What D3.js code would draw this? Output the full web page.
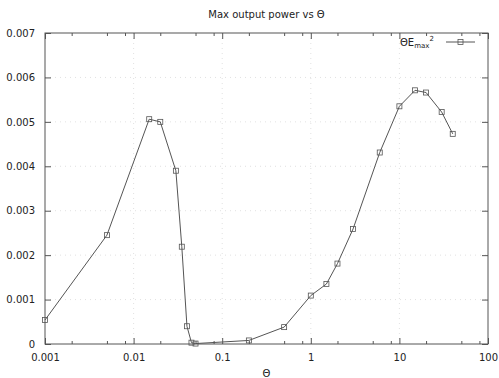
<!DOCTYPE html>
<html>
<head>
<meta charset="utf-8">
<script src="https://cdn.jsdelivr.net/npm/d3@7"></script>
<style>
  body { margin: 0; background: #fff; }
  svg { display: block; font-family: "DejaVu Sans", sans-serif; }
  text { fill: #222; }
</style>
</head>
<body>
<svg id="chart" width="499" height="378"></svg>
<script>
// theta values (log axis) and max output power
const theta = [0.001, 0.005, 0.015, 0.02, 0.03, 0.035, 0.04, 0.045, 0.05, 0.2, 0.5,
               1, 1.5, 2, 3, 6, 10, 15, 20, 30, 40];
const power = [0.00054, 0.00245, 0.00506, 0.00500, 0.00390, 0.00219, 0.00040, 0.00003, 0.00001,
               0.00008, 0.00038, 0.00109, 0.00135, 0.00181, 0.00259, 0.00431, 0.00535,
               0.00571, 0.00566, 0.00522, 0.00473];
const yTicks = [0, 0.001, 0.002, 0.003, 0.004, 0.005, 0.006, 0.007];
const xTicks = [0.001, 0.01, 0.1, 1, 10, 100];
const xMinor = [2, 5, 8];

const width = 499, height = 378;
const margin = { top: 33, right: 11, bottom: 34, left: 45 };

const svg = d3.select("#chart");

const x = d3.scaleLog()
    .domain([0.001, 100])
    .range([margin.left, width - margin.right]);
const y = d3.scaleLinear()
    .domain([0, 0.007])
    .range([height - margin.top - margin.bottom + margin.top, margin.top]);

const axisColor = "#555";

// faint dotted grid
const grid = svg.append("g");
grid.selectAll("line.gx")
    .data(xTicks.slice(1, -1))
    .enter().append("line")
    .attr("x1", d => x(d)).attr("x2", d => x(d))
    .attr("y1", y(0)).attr("y2", y(0.007))
    .attr("stroke", "#ccc").attr("stroke-width", 0.6)
    .attr("stroke-dasharray", "1,4");
grid.selectAll("line.gy")
    .data(yTicks.slice(1, -1))
    .enter().append("line")
    .attr("x1", x(0.001)).attr("x2", x(100))
    .attr("y1", d => y(d)).attr("y2", d => y(d))
    .attr("stroke", "#ccc").attr("stroke-width", 0.6)
    .attr("stroke-dasharray", "1,4");

// minor ticks list
const minorTicks = [];
xTicks.slice(0, -1).forEach(t => xMinor.forEach(m => minorTicks.push(t * m)));

// axes (inward ticks, mirrored)
const bottomAxis = d3.axisBottom(x).tickValues(xTicks).tickSize(-6).tickPadding(10)
    .tickFormat(d => String(+d.toPrecision(1)));
const topAxis = d3.axisTop(x).tickValues(xTicks).tickSize(-6).tickFormat("");
const leftAxis = d3.axisLeft(y).tickValues(yTicks).tickSize(-6).tickPadding(10)
    .tickFormat(d => d === 0 ? "0" : d3.format(".3f")(d));
const rightAxis = d3.axisRight(y).tickValues(yTicks).tickSize(-6).tickFormat("");

function styleAxis(g) {
    g.select(".domain").remove();
    g.selectAll("line").attr("stroke", axisColor);
    g.selectAll("text").attr("font-size", 10).attr("font-family", "DejaVu Sans").attr("fill", "#222");
}

svg.append("g").attr("transform", `translate(0,${y(0)})`).call(bottomAxis).call(styleAxis);
svg.append("g").attr("transform", `translate(0,${y(0.007)})`).call(topAxis).call(styleAxis);
svg.append("g").attr("transform", `translate(${x(0.001)},0)`).call(leftAxis).call(styleAxis);
svg.append("g").attr("transform", `translate(${x(100)},0)`).call(rightAxis).call(styleAxis);

// minor x ticks
svg.append("g").attr("transform", `translate(0,${y(0)})`)
    .call(d3.axisBottom(x).tickValues(minorTicks).tickSize(-3).tickFormat(""))
    .call(styleAxis);
svg.append("g").attr("transform", `translate(0,${y(0.007)})`)
    .call(d3.axisTop(x).tickValues(minorTicks).tickSize(-3).tickFormat(""))
    .call(styleAxis);

// border
svg.append("rect")
    .attr("x", x(0.001)).attr("y", y(0.007))
    .attr("width", x(100) - x(0.001)).attr("height", y(0) - y(0.007))
    .attr("fill", "none").attr("stroke", axisColor).attr("stroke-width", 1);

// series
const lineColor = "#555";
const line = d3.line().x((d, i) => x(theta[i])).y(d => y(d));
svg.append("path")
    .datum(power)
    .attr("d", line)
    .attr("fill", "none")
    .attr("stroke", lineColor)
    .attr("stroke-width", 1);

const ms = 5;
svg.append("g").selectAll("rect")
    .data(power)
    .enter().append("rect")
    .attr("x", (d, i) => x(theta[i]) - ms / 2)
    .attr("y", d => y(d) - ms / 2)
    .attr("width", ms).attr("height", ms)
    .attr("fill", "none").attr("stroke", lineColor).attr("stroke-width", 0.8);

// title and axis label
svg.append("text")
    .attr("x", (x(0.001) + x(100)) / 2).attr("y", 18)
    .attr("text-anchor", "middle").attr("font-size", 10)
    .text("Max output power vs Θ");
svg.append("text")
    .attr("x", (x(0.001) + x(100)) / 2).attr("y", 377)
    .attr("text-anchor", "middle").attr("font-size", 10)
    .text("Θ");

// legend
const lg = svg.append("g");
const lt = lg.append("text").attr("x", 400).attr("y", 46).attr("font-size", 10);
lt.append("tspan").text("ΘE");
lt.append("tspan").attr("font-size", 7).attr("dy", 2).text("max");
lt.append("tspan").attr("font-size", 7).attr("dy", -7).text("2");
lg.append("line")
    .attr("x1", 446).attr("x2", 475).attr("y1", 42).attr("y2", 42)
    .attr("stroke", lineColor).attr("stroke-width", 1);
lg.append("rect")
    .attr("x", 460.5 - ms / 2).attr("y", 42 - ms / 2)
    .attr("width", ms).attr("height", ms)
    .attr("fill", "none").attr("stroke", lineColor).attr("stroke-width", 0.8);
</script>
</body>
</html>
